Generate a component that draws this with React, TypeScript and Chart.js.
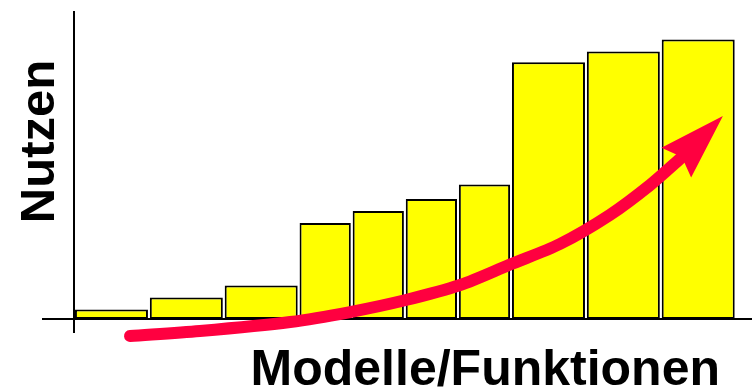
import React, { useEffect, useRef } from 'react';
import { Chart, registerables } from 'chart.js';

Chart.register(...registerables);

// ---- data ----
const models = ['M1', 'M2', 'M3', 'M4', 'M5', 'M6', 'M7', 'M8', 'M9', 'M10'];
const modelWidths = [1.41, 1.41, 1.41, 1, 1, 1, 1, 1.41, 1.41, 1.41];
const benefit = [0.8, 1.8, 2.8, 8, 9, 10, 11.2, 21.4, 22.3, 23.3];
const trendX = [1.055, 2.37, 4.07, 5.2, 6.25, 7.27, 8.21, 9.15, 10.09, 10.85, 11.43];
const trendY = [-1.42, -1.0, -0.25, 0.58, 1.58, 2.83, 4.54, 6.25, 8.67, 11.17, 13.42];
const trendTip = [12.22, 16.92];

const yTitle = 'Nutzen';
const xTitle = 'Modelle/Funktionen';

// ---- axis ranges & styles ----
const X_MIN = -0.603;
const X_MAX = 12.768;
const Y_MIN = -14 / 12;
const Y_MAX = 308 / 12;
const GAP = 0.035;
const YELLOW = '#FFFF00';
const RED = '#FF0040';
const INK = '#000000';
const FONT = '"Liberation Sans", Arial, Helvetica, sans-serif';

const centers: number[] = [];
{
  let acc = 0;
  modelWidths.forEach((w) => {
    centers.push(acc + w / 2);
    acc += w;
  });
}

const arrowHeadPlugin = {
  id: 'arrowHead',
  afterDatasetsDraw(chart: any) {
    const xs = chart.scales.x;
    const ys = chart.scales.y;
    const n = trendX.length - 1;
    const sx = xs.getPixelForValue(trendX[n]);
    const sy = ys.getPixelForValue(trendY[n]);
    const tx = xs.getPixelForValue(trendTip[0]);
    const ty = ys.getPixelForValue(trendTip[1]);
    const len = Math.hypot(tx - sx, ty - sy) || 1;
    const ux = (tx - sx) / len;
    const uy = (ty - sy) / len;
    const nx = -uy;
    const ny = ux;
    const headLen = 66;
    const halfW = 21;
    const notch = 58;
    const bx = tx - ux * headLen;
    const by = ty - uy * headLen;
    const ctx = chart.ctx;
    ctx.save();
    ctx.fillStyle = RED;
    ctx.beginPath();
    ctx.moveTo(tx, ty);
    ctx.lineTo(bx + nx * halfW, by + ny * halfW);
    ctx.lineTo(tx - ux * notch, ty - uy * notch);
    ctx.lineTo(bx - nx * halfW, by - ny * halfW);
    ctx.closePath();
    ctx.fill();
    ctx.restore();
  },
};

const axisTitlesPlugin = {
  id: 'axisTitles',
  afterDraw(chart: any) {
    const ctx = chart.ctx;
    const area = chart.chartArea;
    ctx.save();
    ctx.fillStyle = INK;
    ctx.textBaseline = 'alphabetic';
    // x title
    ctx.font = `bold 50px ${FONT}`;
    ctx.textAlign = 'right';
    ctx.fillText(xTitle, area.right - 32, area.bottom + 52);
    // y title
    ctx.font = `bold 49px ${FONT}`;
    ctx.translate(area.left + 12, area.top + 130.5);
    ctx.rotate(-Math.PI / 2);
    ctx.textAlign = 'center';
    ctx.fillText(yTitle, 0, 0);
    ctx.restore();
  },
};

export default function App() {
  const canvasRef = useRef<HTMLCanvasElement | null>(null);

  useEffect(() => {
    const canvas = canvasRef.current;
    if (!canvas) return;

    const barSets = models.map((m, i) => ({
      type: 'bar' as const,
      label: m,
      data: [{ x: centers[i], y: benefit[i] }],
      backgroundColor: YELLOW,
      borderColor: INK,
      borderWidth: { top: 2, left: 2, right: 2, bottom: 1 },
      borderSkipped: false,
      barPercentage: modelWidths[i] - GAP,
      categoryPercentage: 1,
      grouped: false,
      order: 1,
    }));

    const trendSet = {
      type: 'line' as const,
      label: 'Trend',
      data: trendX.map((x, i) => ({ x, y: trendY[i] })),
      borderColor: RED,
      borderWidth: 12,
      borderCapStyle: 'round',
      pointRadius: 0,
      pointHoverRadius: 0,
      tension: 0.3,
      fill: false,
      clip: false,
      order: 0,
    };

    const chart = new Chart(canvas, {
      type: 'bar',
      data: { datasets: [trendSet as any, ...barSets] },
      options: {
        animation: false,
        responsive: false,
        devicePixelRatio: 1,
        events: [],
        layout: { padding: { left: 42, top: 11, right: 0, bottom: 55 } },
        plugins: {
          legend: { display: false },
          tooltip: { enabled: false },
          title: { display: false },
        },
        scales: {
          x: {
            type: 'linear',
            min: X_MIN,
            max: X_MAX,
            bounds: 'data',
            offset: false,
            afterBuildTicks: (scale: any) => {
              scale.ticks = [{ value: 0 }];
            },
            ticks: { display: false },
            border: { display: false },
            grid: { color: INK, lineWidth: 2, drawTicks: false, offset: false },
            title: { display: false },
          },
          y: {
            type: 'linear',
            min: Y_MIN,
            max: Y_MAX,
            bounds: 'data',
            offset: false,
            afterBuildTicks: (scale: any) => {
              scale.ticks = [{ value: 0 }];
            },
            ticks: { display: false },
            border: { display: false },
            grid: { color: INK, lineWidth: 2, drawTicks: false, offset: false },
            title: { display: false },
          },
        },
      } as any,
      plugins: [arrowHeadPlugin, axisTitlesPlugin],
    });

    return () => chart.destroy();
  }, []);

  return (
    <div style={{ position: 'fixed', left: 0, top: 0, width: 752, height: 388, background: '#fff' }}>
      <canvas ref={canvasRef} width={752} height={388} style={{ display: 'block', width: 752, height: 388 }} />
    </div>
  );
}
